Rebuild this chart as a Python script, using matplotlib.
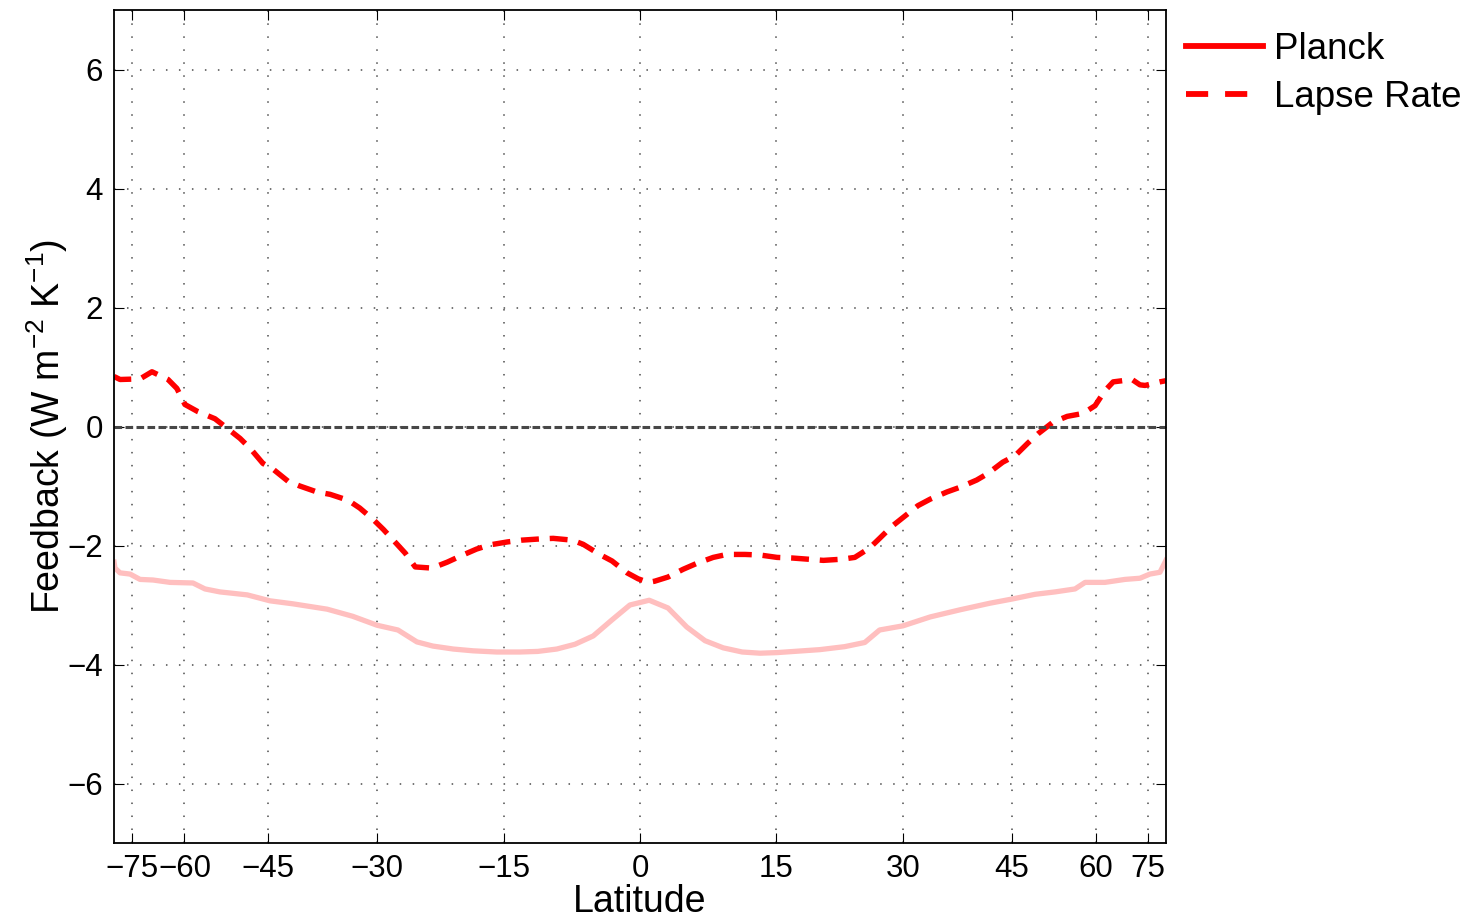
import numpy as np
import matplotlib
matplotlib.use("Agg")
import matplotlib.pyplot as plt
from matplotlib.lines import Line2D

plt.rcParams['font.family'] = ['Liberation Sans', 'DejaVu Sans']
plt.rcParams['mathtext.fontset'] = 'custom'
plt.rcParams['mathtext.rm'] = 'Liberation Sans'
plt.rcParams['mathtext.it'] = 'Liberation Sans'
plt.rcParams['mathtext.bf'] = 'Liberation Sans'

# Lapse rate feedback (dashed)
lr_lat = [-89, -81.3, -71.9, -68.1, -63.8, -61.7, -59.9, -57.2, -53.9, -52.1,
          -49.5, -47.8, -45.8, -44.2, -42.0, -40.3, -37.9, -36.1, -33.7, -32.2,
          -30.5, -29.2, -27.5, -26.5, -25.3, -23.3, -21.5, -20.0, -18.1, -16.6,
          -14.6, -13.0, -11.0, -9.5, -7.4, -6.2, -4.4, -3.05, -1.4, -0.2,
          0.9, 1.6, 3.05, 4.7, 6.2, 8.0, 9.5, 11.5, 13.2, 15.1,
          16.8, 18.6, 20.4, 22.6, 24.1, 25.9, 27.1, 28.6, 30.0, 31.9,
          33.5, 35.7, 37.5, 39.8, 41.4, 43.6, 45.5, 47.5, 49.2, 51.7,
          54.3, 57.4, 59.9, 62.1, 64.1, 69.3, 71.9, 73.8, 81.3, 89]
lr_val = [0.84, 0.79, 0.80, 0.92, 0.79, 0.64, 0.37, 0.25, 0.13, 0.0,
          -0.20, -0.37, -0.62, -0.72, -0.92, -1.00, -1.10, -1.14, -1.24, -1.37,
          -1.56, -1.73, -1.98, -2.13, -2.36, -2.38, -2.28, -2.18, -2.06, -1.99,
          -1.94, -1.91, -1.89, -1.88, -1.91, -1.98, -2.15, -2.26, -2.46, -2.56,
          -2.62, -2.60, -2.53, -2.40, -2.30, -2.20, -2.15, -2.15, -2.16, -2.20,
          -2.21, -2.23, -2.25, -2.23, -2.20, -2.04, -1.88, -1.68, -1.53, -1.33,
          -1.22, -1.10, -1.02, -0.90, -0.79, -0.60, -0.49, -0.28, -0.12, 0.07,
          0.17, 0.22, 0.35, 0.60, 0.75, 0.79, 0.70, 0.69, 0.75, 0.77]

# Planck feedback (solid, faded)
pl_lat = [-89, -86.5, -81.3, -75.8, -71.9, -67.8, -63.3, -58.2, -55.8, -53.0,
          -48.3, -44.7, -41.3, -36.5, -33.1, -30.0, -27.4, -25.1, -23.2, -20.8,
          -18.5, -15.8, -13.2, -11.2, -9.1, -7.1, -5.1, -3.05, -1.1, 1.0,
          3.05, 5.1, 7.1, 9.1, 11.2, 13.2, 15.1, 20.0, 22.9, 25.3,
          27.1, 30.0, 33.5, 37.5, 41.7, 45.0, 48.7, 52.1, 55.8, 57.8,
          62.1, 67.2, 71.9, 75.8, 81.3, 89]
pl_val = [-2.28, -2.38, -2.46, -2.48, -2.57, -2.58, -2.62, -2.63, -2.73, -2.78,
          -2.83, -2.93, -2.98, -3.07, -3.19, -3.34, -3.42, -3.62, -3.69, -3.74,
          -3.77, -3.79, -3.79, -3.78, -3.74, -3.66, -3.52, -3.25, -3.00, -2.92,
          -3.05, -3.37, -3.60, -3.72, -3.79, -3.81, -3.80, -3.75, -3.70, -3.63,
          -3.42, -3.35, -3.20, -3.08, -2.97, -2.90, -2.82, -2.78, -2.73, -2.62,
          -2.62, -2.57, -2.55, -2.48, -2.45, -2.25]

lat_ticks = [-75, -60, -45, -30, -15, 0, 15, 30, 45, 60, 75]
y_ticks = [-6, -4, -2, 0, 2, 4, 6]

fig = plt.figure(figsize=(14.7, 9.19), dpi=100)
ax = fig.add_axes([114 / 1470, 76 / 919, 1052 / 1470, 833 / 919])

# x axis is area-weighted: sine of latitude
ax.plot(np.sin(np.radians(pl_lat)), pl_val, color=(1, 0.75, 0.75), lw=3.8,
        solid_joinstyle='round')
ax.plot(np.sin(np.radians(lr_lat)), lr_val, color='red', lw=3.9,
        linestyle=(0, (3.3, 2.0)))
ax.axhline(0, color='0.28', lw=2.2, linestyle=(0, (2.5, 1.1)))

ax.set_xlim(-1, 1)
ax.set_ylim(-7, 7)
ax.set_xticks(np.sin(np.radians(lat_ticks)))
ax.set_xticklabels([str(t).replace('-', '\u2212') for t in lat_ticks])
ax.set_yticks(y_ticks)
ax.set_yticklabels([str(t).replace('-', '\u2212') for t in y_ticks])

ax.grid(True, color='0.3', lw=1.1, linestyle=(0, (1, 7.5)))
ax.tick_params(direction='in', length=7, width=0.8, top=True, right=True,
               labelsize=22.5, pad=8)
for s in ax.spines.values():
    s.set_linewidth(1.3)

ax.set_xlabel('Latitude', fontsize=27, labelpad=0)
ax.set_ylabel('Feedback (W m$^{-2}$ K$^{-1}$)', fontsize=27, labelpad=-2)

handles = [Line2D([], [], color='red', lw=4.2),
           Line2D([], [], color='red', lw=4.2, linestyle=(0, (3.8, 2.9)))]
fig.legend(handles, ['Planck', 'Lapse Rate'], loc='upper left',
           bbox_to_anchor=(1186 / 1470, 1 - 32 / 919), frameon=False,
           fontsize=26.5, handlelength=2.1, handletextpad=0.3, labelspacing=0.35,
           borderaxespad=0, borderpad=0)

fig.savefig('out.png', dpi=100)
